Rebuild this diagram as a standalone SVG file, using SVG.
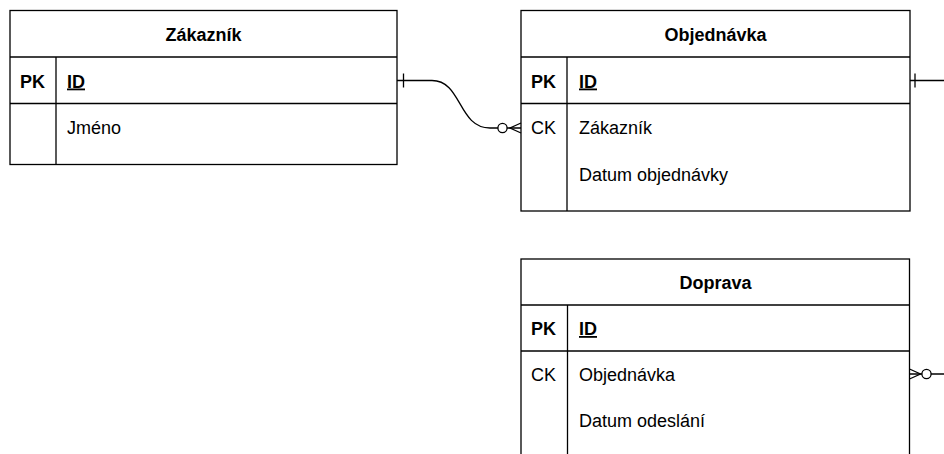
<svg xmlns="http://www.w3.org/2000/svg" width="944" height="454" viewBox="0 0 944 454">
<style>
.box{fill:#fff;stroke:#000;stroke-width:1.3}
.ln{fill:none;stroke:#000;stroke-width:1.3}
text{font-family:"Liberation Sans",Arial,sans-serif;font-size:18px;fill:#000}
.b{font-weight:bold}
.c{text-anchor:middle}
.u{text-decoration:underline}
</style>
<rect width="944" height="454" fill="#fff"/>
<g id="zakaznik">
<rect class="box" x="10" y="10.5" width="387" height="154"/>
<line class="ln" x1="10" y1="57" x2="397" y2="57"/>
<line class="ln" x1="10" y1="103.5" x2="397" y2="103.5"/>
<line class="ln" x1="56" y1="57" x2="56" y2="164.5"/>
<text class="b c" x="203.5" y="41">Zákazník</text>
<text class="b c" x="32.5" y="87.5">PK</text>
<text class="b u" x="67" y="87.5">ID</text>
<text x="67" y="134">Jméno</text>
</g>
<g id="objednavka">
<rect class="box" x="521" y="10.5" width="389" height="200.5"/>
<line class="ln" x1="521" y1="57" x2="910" y2="57"/>
<line class="ln" x1="521" y1="103.5" x2="910" y2="103.5"/>
<line class="ln" x1="567" y1="57" x2="567" y2="211"/>
<text class="b c" x="715.5" y="41">Objednávka</text>
<text class="b c" x="543.5" y="87.5">PK</text>
<text class="b u" x="579" y="87.5">ID</text>
<text class="c" x="543.5" y="134">CK</text>
<text x="579" y="134">Zákazník</text>
<text x="579" y="181">Datum objednávky</text>
</g>
<g id="doprava">
<rect class="box" x="521" y="259" width="388.5" height="220"/>
<line class="ln" x1="521" y1="305" x2="909.5" y2="305"/>
<line class="ln" x1="521" y1="351" x2="909.5" y2="351"/>
<line class="ln" x1="567.5" y1="305" x2="567.5" y2="479"/>
<text class="b c" x="715.5" y="289">Doprava</text>
<text class="b c" x="543.5" y="335">PK</text>
<text class="b u" x="579" y="335">ID</text>
<text class="c" x="543.5" y="381">CK</text>
<text x="579" y="381">Objednávka</text>
<text x="579" y="427">Datum odeslání</text>
</g>
<g id="connectors">
<path class="ln" d="M397,80.5 L432,80.5 C462,80.5 458,128 490,128 L521,128"/>
<line class="ln" x1="403.5" y1="73.5" x2="403.5" y2="87.5"/>
<circle class="ln" cx="502.5" cy="128" r="4.6" fill="#fff" style="fill:#fff"/>
<path class="ln" d="M521,123 L510,128 L521,133"/>
<path class="ln" d="M910,80.5 L944,80.5"/>
<line class="ln" x1="915" y1="73.5" x2="915" y2="87.5"/>
<path class="ln" d="M909.5,374 L944,374"/>
<path class="ln" d="M909.5,369 L920.5,374 L909.5,379"/>
<circle class="ln" cx="926.5" cy="374" r="4.6" style="fill:#fff"/>
</g>
</svg>
